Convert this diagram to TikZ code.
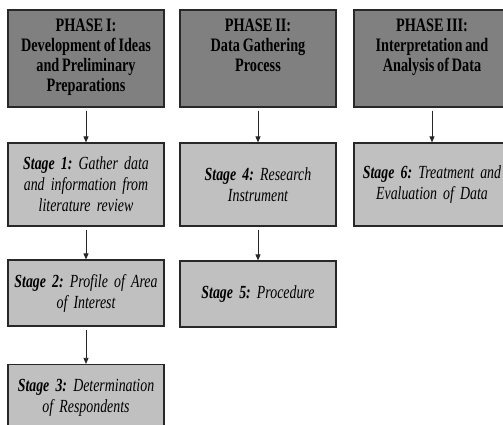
\documentclass[tikz,border=0pt]{standalone}
\usepackage{fontspec}
\setmainfont{Liberation Serif}[FakeStretch=0.75,WordSpace=0.8]
\usetikzlibrary{arrows.meta,shadows}
\definecolor{phasegray}{RGB}{128,128,128}
\definecolor{stagegray}{RGB}{192,192,192}
\definecolor{edgegray}{RGB}{40,40,40}
\begin{document}
\hyphenpenalty=10000
\frenchspacing
\begin{tikzpicture}[x=1pt,y=-1pt,
  boxbase/.style={draw=edgegray,line width=1.2pt,minimum width=156pt,inner xsep=1pt,inner ysep=3pt,
    drop shadow={shadow xshift=1.2pt,shadow yshift=-1.2pt,fill=black!80,opacity=1}},
  phasebox/.style={boxbase,fill=phasegray,minimum height=97pt,
    font=\fontsize{19}{20}\selectfont\bfseries},
  stagebox/.style={boxbase,fill=stagegray,align=center,text width=154pt,
    font=\fontsize{18.5}{21}\selectfont\itshape},
  arr/.style={draw=black!85,line width=0.8pt,shorten <=3pt,
    -{Triangle[length=6pt,width=5pt]}}]
\useasboundingbox (0,0) rectangle (503,424);
\clip (0,0) rectangle (503,424);
\fill[white] (0,0) rectangle (503,424);
% phases
\node[phasebox] (p1) at (86,58.5)
  {\parbox[c][89pt][t]{154pt}{\centering\vspace*{5pt}PHASE I:\\Development of Ideas\\and Preliminary\\Preparations}};
\node[phasebox] (p2) at (258,58.5)
  {\parbox[c][89pt][t]{154pt}{\centering\vspace*{5pt}PHASE II:\\Data Gathering\\Process}};
\node[phasebox] (p3) at (432,58.5)
  {\parbox[c][89pt][t]{154pt}{\centering\vspace*{5pt}PHASE III:\\Interpretation and\\Analysis of Data}};
% stages
\node[stagebox,minimum height=83pt] (s1) at (86,184.5)
  {\textbf{Stage 1:} Gather data\\and information from\\literature review};
\node[stagebox,minimum height=66pt] (s2) at (86,293)
  {\textbf{Stage 2:} Profile of Area\\of Interest};
\node[stagebox,minimum height=66pt] (s3) at (86,397.5)
  {\textbf{Stage 3:} Determination\\of Respondents};
\node[stagebox,minimum height=83pt] (s4) at (258,184.5)
  {\textbf{Stage 4:} Research\\Instrument};
\node[stagebox,minimum height=66pt] (s5) at (258,294)
  {\textbf{Stage 5:} Procedure};
\node[stagebox,minimum height=83pt] (s6) at (432,184.5)
  {\textbf{Stage 6:} Treatment and\\Evaluation of Data};
% arrows
\draw[arr] (p1) -- (s1);
\draw[arr] (s1) -- (s2);
\draw[arr] (s2) -- (s3);
\draw[arr] (p2) -- (s4);
\draw[arr] (s4) -- (s5);
\draw[arr] (p3) -- (s6);
\end{tikzpicture}
\end{document}
